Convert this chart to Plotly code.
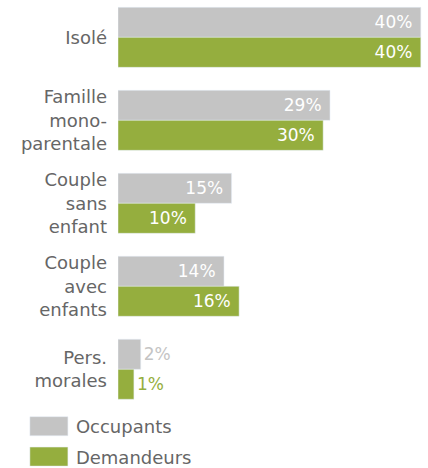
import plotly.graph_objects as go

categories = ["Isolé", "Famille<br>mono-<br>parentale", "Couple<br>sans<br>enfant",
              "Couple<br>avec<br>enfants", "Pers.<br>morales"]
occupants = [40, 28, 15, 14, 3]
demandeurs = [40, 27.1, 10.2, 16, 2.1]
occupants_labels = ["40%", "29%", "15%", "14%", "2%"]
demandeurs_labels = ["40%", "30%", "10%", "16%", "1%"]

gray = "#C4C4C4"
green = "#95AE3E"
textgray = "#666666"
font = "DejaVu Sans"

positions = ["inside"] * 4 + ["outside"]

fig = go.Figure()
fig.add_trace(go.Bar(
    y=categories, x=occupants, orientation="h", name="Occupants",
    legendgroup="occ",
    marker_color=gray, text=occupants_labels, texttemplate="%{text}\u00a0",
    textposition=positions, insidetextanchor="end",
    textfont=dict(family=font, size=17, color=["white"] * 4 + [gray]),
    cliponaxis=False, hoverinfo="skip"))
fig.add_trace(go.Bar(
    y=categories, x=demandeurs, orientation="h", name="Demandeurs",
    legendgroup="dem",
    marker_color=green, text=demandeurs_labels, texttemplate="%{text}\u00a0",
    textposition=positions, insidetextanchor="end",
    textfont=dict(family=font, size=17, color=["white"] * 4 + [green]),
    cliponaxis=False, hoverinfo="skip"))

fig.update_layout(
    width=428, height=468,
    margin=dict(l=118, r=0, t=0, b=68, autoexpand=False),
    plot_bgcolor="white", paper_bgcolor="white",
    barmode="group", bargap=0.277, bargroupgap=0,
    font=dict(family=font, size=18, color=textgray),
    legend=dict(x=-0.31, y=-0.02, xanchor="left", yanchor="top",
                traceorder="grouped", font=dict(size=18, color=textgray),
                itemwidth=44, tracegroupgap=4),
    showlegend=True,
)
fig.update_xaxes(range=[0, 40.95], visible=False)
fig.update_yaxes(range=[4.37, -0.45], showgrid=False, showline=False,
                 ticks="", ticklabelstandoff=10, automargin=False,
                 tickfont=dict(family=font, size=18, color=textgray))

post = """
document.body.style.margin = '0';
document.querySelectorAll('.legendpoints path').forEach(function(p){
  p.setAttribute('d','M-19,-9.5H19V9.5H-19Z');
});
"""
fig.write_html("out.html", post_script=post, config={"displayModeBar": False})
